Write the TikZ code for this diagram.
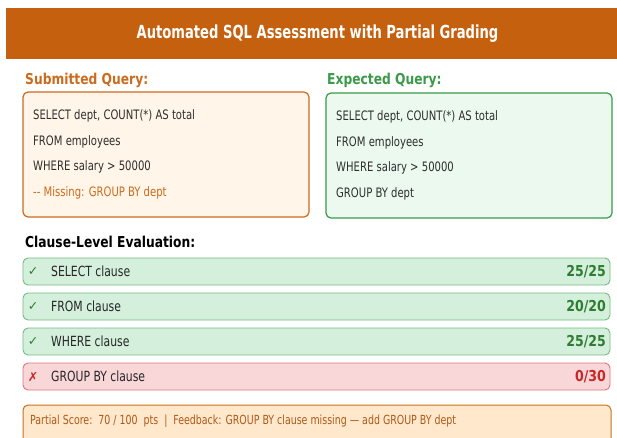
\documentclass[tikz,border=0pt]{standalone}
\usepackage{fontspec}
\usepackage{xcolor}
\setmainfont{DejaVu Sans Condensed}
\newfontfamily\headfont[FakeStretch=0.91]{DejaVu Sans Condensed}
\newfontfamily\codefont[FakeStretch=0.86]{DejaVu Sans Condensed}
\newfontfamily\notefont[FakeStretch=0.84]{DejaVu Sans Condensed}
\newfontfamily\titlefont[FakeStretch=0.81]{DejaVu Sans Condensed}
\newfontfamily\scorefont[FakeStretch=0.93]{DejaVu Sans Condensed}
\newfontfamily\symfont{DejaVu Sans}

\definecolor{hdrorange}{HTML}{C5600F}
\definecolor{suborange}{HTML}{CC6A1E}
\definecolor{subfill}{HTML}{FFF5E8}
\definecolor{expgreen}{HTML}{3A9A4A}
\definecolor{expfill}{HTML}{EBF9EE}
\definecolor{okline}{HTML}{72BC80}
\definecolor{okfill}{HTML}{D4EFDC}
\definecolor{okscore}{HTML}{2E7D32}
\definecolor{badline}{HTML}{D9777C}
\definecolor{badfill}{HTML}{F9D6D8}
\definecolor{badscore}{HTML}{C62828}
\definecolor{sumfill}{HTML}{FFE8CC}
\definecolor{sumline}{HTML}{C8701E}

\begin{document}
\begin{tikzpicture}[x=1pt, y=-1pt,
  querybox/.style={draw, line width=1.2pt, rounded corners=5pt, minimum width=286pt, minimum height=125pt},
  heading/.style={font=\headfont\fontsize{15}{18}\selectfont\bfseries, anchor=west, inner sep=0pt},
  codeline/.style={font=\codefont\fontsize{13}{15}\selectfont, anchor=west, inner sep=0pt, text=black!82},
  clausebar/.style={draw, line width=0.9pt, rounded corners=5pt, minimum width=587pt, minimum height=27pt},
  okbar/.style={clausebar, draw=okline, fill=okfill},
  badbar/.style={clausebar, draw=badline, fill=badfill},
  tick/.style={font=\symfont\fontsize{12.5}{14}\selectfont\bfseries, inner sep=0pt},
  barlabel/.style={font=\codefont\fontsize{14}{16}\selectfont, anchor=west, inner sep=0pt, text=black!85},
  score/.style={font=\scorefont\fontsize{15}{17}\selectfont\bfseries, anchor=east, inner sep=0pt}
]
\useasboundingbox (0,0) rectangle (617,438);

% Title band
\node[fill=hdrorange, minimum width=623pt, minimum height=51pt, inner sep=0pt,
  text=white, font=\titlefont\fontsize{18}{21}\selectfont\bfseries] (title) at (317.5,33.5)
  {Automated SQL Assessment with Partial Grading};

% Left column: submitted query
\node[heading, text=suborange] (sub-head) at (25,80) {Submitted Query:};
\node[querybox, draw=suborange, fill=subfill] (sub-box) at (166,154.5) {};
\node[codeline] (sub-l1) at (33,116) {SELECT dept, COUNT(*) AS total};
\node[codeline] (sub-l2) at (33,142) {FROM employees};
\node[codeline] (sub-l3) at (33,167) {WHERE salary > 50000};
\node[codeline, text=suborange] (sub-l4) at (33,193) {-{}- Missing: GROUP BY dept};

% Right column: expected query
\node[heading, text=expgreen] (exp-head) at (327,80) {Expected Query:};
\node[querybox, draw=expgreen, fill=expfill] (exp-box) at (469,155.5) {};
\node[codeline] (exp-l1) at (336,117) {SELECT dept, COUNT(*) AS total};
\node[codeline] (exp-l2) at (336,143) {FROM employees};
\node[codeline] (exp-l3) at (336,168) {WHERE salary > 50000};
\node[codeline] (exp-l4) at (336,194) {GROUP BY dept};

% Clause-level evaluation
\node[heading, text=black] (eval-head) at (25,242) {Clause-Level Evaluation:};

\node[okbar] (bar-select) at (316.5,271.5) {};
\node[tick, text=okscore] (chk-select) at (33,271.5) {✓};
\node[barlabel] (lbl-select) at (51,271.5) {SELECT clause};
\node[score, text=okscore] (pts-select) at (606,272) {25/25};

\node[okbar] (bar-from) at (316.5,306.5) {};
\node[tick, text=okscore] (chk-from) at (33,306.5) {✓};
\node[barlabel] (lbl-from) at (51,306.5) {FROM clause};
\node[score, text=okscore] (pts-from) at (606,307) {20/20};

\node[okbar] (bar-where) at (316.5,341.5) {};
\node[tick, text=okscore] (chk-where) at (33,341.5) {✓};
\node[barlabel] (lbl-where) at (51,341.5) {WHERE clause};
\node[score, text=okscore] (pts-where) at (606,342) {25/25};

\node[badbar] (bar-group) at (316.5,376.5) {};
\node[tick, text=badscore] (chk-group) at (33,376.5) {✗};
\node[barlabel] (lbl-group) at (51,376.5) {GROUP BY clause};
\node[score, text=badscore] (pts-group) at (606,377) {0/30};

% Summary
\node[draw=sumline, fill=sumfill, line width=1pt, rounded corners=5pt,
  minimum width=588pt, minimum height=40pt] (summary) at (317,425) {};
\node[codeline, text=suborange!85!black, font=\notefont\fontsize{12.5}{14}\selectfont] (sum-text) at (30,421)
  {Partial Score:\ \ 70 / 100\ \ pts\ \ |\ \ Feedback: GROUP BY clause missing — add GROUP BY dept};
\end{tikzpicture}
\end{document}
